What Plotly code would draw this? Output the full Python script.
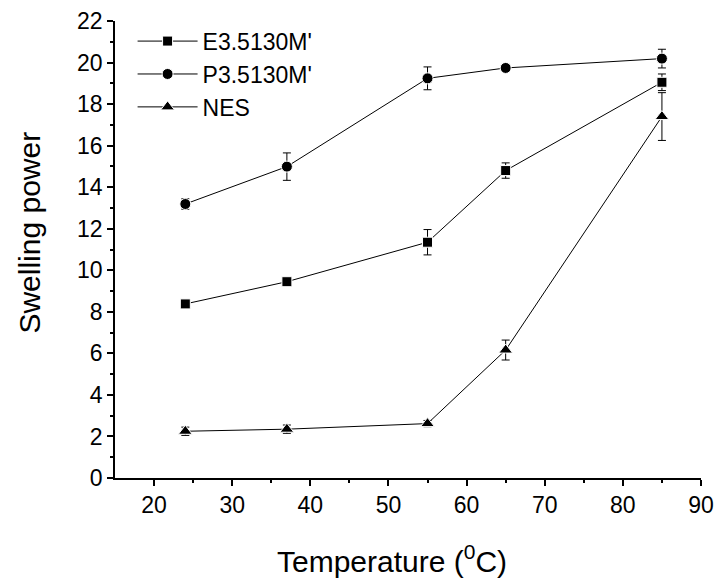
import plotly.graph_objects as go

# Temperature (°C) at which swelling power was measured
temperature = [24, 37, 55, 65, 85]

# Swelling power for each sample, with standard deviations
e_values = [8.38, 9.45, 11.35, 14.8, 19.05]
e_errors = [0.12, 0.12, 0.61, 0.37, 0.4]

p_values = [13.19, 14.99, 19.24, 19.74, 20.19]
p_errors = [0.25, 0.66, 0.55, 0.15, 0.45]

nes_values = [2.25, 2.35, 2.62, 6.16, 17.4]
nes_errors = [0.2, 0.2, 0.15, 0.48, 1.15]

series = [
    ("E3.5130M'", e_values, e_errors, "square", 10),
    ("P3.5130M'", p_values, p_errors, "circle", 11),
    ("NES", nes_values, nes_errors, "triangle-up", 12),
]

x_title = "Temperature (<sup>0</sup>C)"
y_title = "Swelling power"

FONT = "Liberation Sans, Arial, sans-serif"

fig = go.Figure()
for name, vals, errs, symbol, size in series:
    fig.add_trace(go.Scatter(
        x=temperature, y=vals, name=name,
        mode="lines+markers",
        line=dict(color="black", width=1),
        marker=dict(symbol=symbol, size=size, color="black",
                    line=dict(color="white", width=1)),
        error_y=dict(type="data", array=errs, visible=True,
                     color="black", thickness=1, width=4),
    ))

axis_font = dict(family=FONT, size=23, color="black")

common_axis = dict(
    showgrid=False, zeroline=False, automargin=False,
    showline=True, linecolor="black", linewidth=1.5,
    ticks="outside", ticklen=6, tickwidth=1.5, tickcolor="black",
    tickfont=axis_font,
)

fig.update_layout(
    width=715, height=582,
    margin=dict(l=115, r=14, t=21, b=104, autoexpand=False),
    paper_bgcolor="white", plot_bgcolor="white",
    font=dict(family=FONT, color="black"),
    showlegend=True,
    legend=dict(
        x=0.03, y=1.003, xanchor="left", yanchor="top",
        font=dict(size=23, color="black"),
        bgcolor="rgba(0,0,0,0)", itemwidth=60,
        tracegroupgap=0,
    ),
    xaxis=dict(
        range=[15, 90], tickmode="array", tickvals=[20, 30, 40, 50, 60, 70, 80, 90],
        minor=dict(tickvals=[25, 35, 45, 55, 65, 75, 85], ticks="outside",
                   ticklen=3, tickwidth=1.5, tickcolor="black"),
        **common_axis,
    ),
    yaxis=dict(
        range=[0, 22], tickmode="array", tickvals=list(range(0, 23, 2)),
        minor=dict(tickvals=list(range(1, 22, 2)), ticks="outside",
                   ticklen=3, tickwidth=1.5, tickcolor="black"),
        **common_axis,
    ),
    annotations=[
        dict(text=x_title, xref="paper", yref="paper", x=0.472, y=-0.178,
             xanchor="center", yanchor="middle", showarrow=False,
             font=dict(family=FONT, size=30, color="black")),
        dict(text=y_title, xref="paper", yref="paper", x=-0.146, y=0.538,
             xanchor="center", yanchor="middle", showarrow=False, textangle=-90,
             font=dict(family=FONT, size=30, color="black")),
    ],
)

fig.write_html("out.html")
